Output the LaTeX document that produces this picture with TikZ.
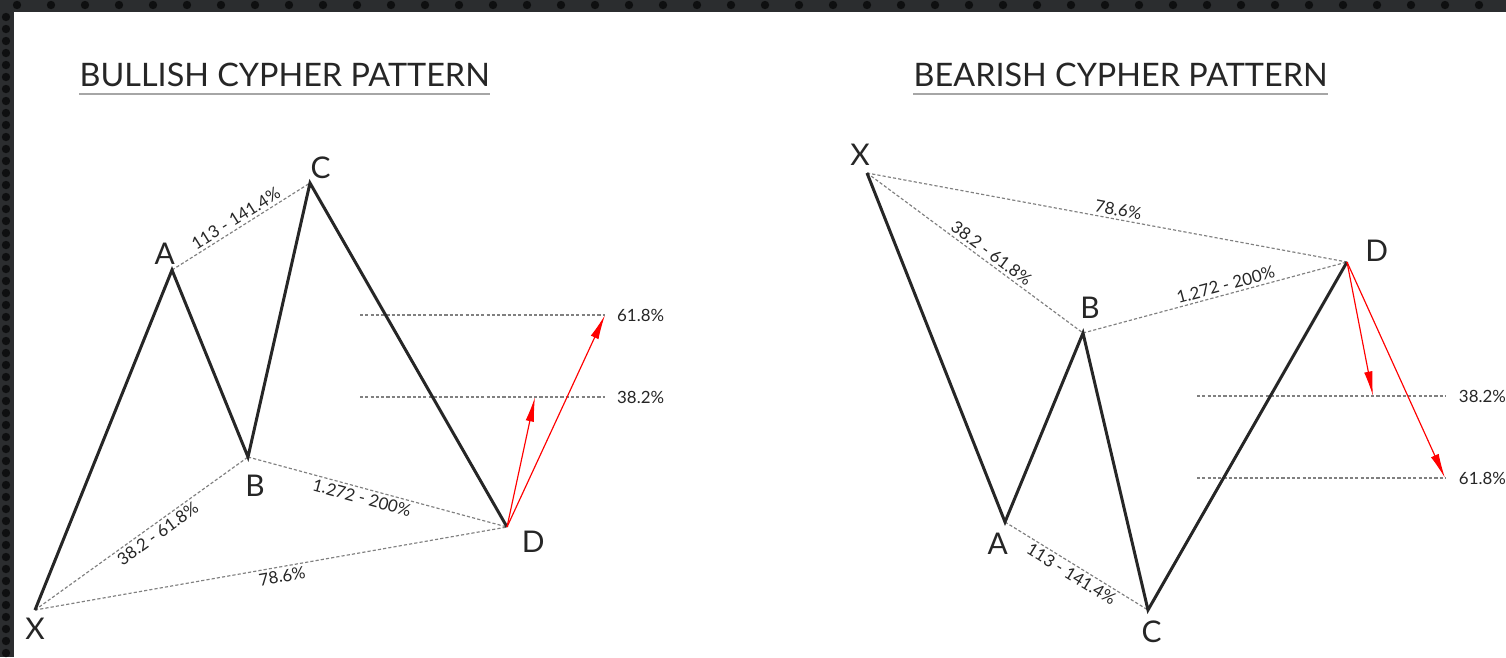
\documentclass[tikz,border=0pt]{standalone}
\usepackage{fontspec}
\setmainfont{Lato}
\usetikzlibrary{arrows.meta,positioning}

\definecolor{frame}{HTML}{2B2D2F}
\definecolor{hole}{HTML}{0E0F10}

\tikzset{
  leg/.style={line width=0.85pt, black!85, line join=miter},
  fib/.style={black!50, line width=0.33pt, dash pattern=on 0.9pt off 0.6pt},
  ratio/.style={font=\fontsize{4.8}{5.5}\selectfont, text=black!85, inner sep=0.8pt},
  pt/.style={font=\fontsize{8.5}{10}\selectfont, text=black!85, inner sep=0pt},
  title/.style={font=\fontsize{9.2}{11}\selectfont, text=black!85, inner sep=0pt},
  target/.style={red, line width=0.33pt, -{Latex[length=7pt,width=2.4pt]}},
}

\begin{document}
\begin{tikzpicture}[x=0.01cm, y=-0.01cm]
    \useasboundingbox (0,0) rectangle (1506,657);
    % frame and panel
    \fill[frame] (0,0) rectangle (1506,657);
    \foreach \i in {0,...,44} \fill[hole] (17+34*\i,5) circle (4.2);
    \foreach \j in {1,...,54} \fill[hole] (6,5+12*\j) circle (4.2);
    \fill[white] (14,12) rectangle (1506,657);

    % ---- bullish ----
    \node[title, anchor=base west] (bulltitle) at (79,86) {BULLISH CYPHER PATTERN};
    \draw[black!35, line width=0.7pt] ([yshift=-2.2pt]bulltitle.base west) -- ([yshift=-2.2pt]bulltitle.base east);

    \coordinate (bX) at (35,610);
    \coordinate (bA) at (172,270);
    \coordinate (bB) at (248,457);
    \coordinate (bC) at (310,183);
    \coordinate (bD) at (507,527);
    \coordinate (bL1) at (360,315);
    \coordinate (bL1e) at (605,315);
    \coordinate (bL2) at (360,397);
    \coordinate (bL2e) at (605,397);
    \coordinate (bT2) at (535,397);

    \draw[fib] (bA) -- node[ratio, sloped, above, pos=0.5] {113 - 141.4\%} (bC);
    \draw[fib] (bX) -- node[ratio, sloped, below, pos=0.55] {38.2 - 61.8\%} (bB);
    \draw[fib] (bB) -- node[ratio, sloped, below, pos=0.45] {1.272 - 200\%} (bD);
    \draw[fib] (bX) -- node[ratio, sloped, below, pos=0.52] {78.6\%} (bD);
    \draw[fib] (bL1) -- (bL1e) node[ratio, right=2.5pt] {61.8\%};
    \draw[fib] (bL2) -- (bL2e) node[ratio, right=2.5pt] {38.2\%};

    \draw[leg] (bX) -- (bA) -- (bB) -- (bC) -- (bD);
    \draw[target] (bD) -- (bT2);
    \draw[target] (bD) -- (bL1e);

    \node[pt, below left=2pt and -3pt of bX] {X};
    \node[pt, above left=1.5pt and -1pt of bA] {A};
    \node[pt, below=5pt of bB, xshift=2pt] {B};
    \node[pt, above right=1pt and 0pt of bC] {C};
    \node[pt, below right=1pt and 4pt of bD] {D};

    % ---- bearish ----
    \node[title, anchor=base west] (beartitle) at (913,86) {BEARISH CYPHER PATTERN};
    \draw[black!35, line width=0.7pt] ([yshift=-2.2pt]beartitle.base west) -- ([yshift=-2.2pt]beartitle.base east);

    \coordinate (sX) at (867,173);
    \coordinate (sA) at (1005,522);
    \coordinate (sB) at (1083,333);
    \coordinate (sC) at (1148,610);
    \coordinate (sD) at (1347,262);
    \coordinate (sL1) at (1197,396);
    \coordinate (sL1e) at (1445,396);
    \coordinate (sT1) at (1373,396);
    \coordinate (sL2) at (1197,478);
    \coordinate (sL2e) at (1445,478);

    \draw[fib] (sX) -- node[ratio, sloped, above, pos=0.52] {78.6\%} (sD);
    \draw[fib] (sX) -- node[ratio, sloped, above, pos=0.55] {38.2 - 61.8\%} (sB);
    \draw[fib] (sB) -- node[ratio, sloped, above, pos=0.55] {1.272 - 200\%} (sD);
    \draw[fib] (sA) -- node[ratio, sloped, below, pos=0.5] {113 - 141.4\%} (sC);
    \draw[fib] (sL1) -- (sL1e) node[ratio, right=3pt] {38.2\%};
    \draw[fib] (sL2) -- (sL2e) node[ratio, right=3pt] {61.8\%};

    \draw[leg] (sX) -- (sA) -- (sB) -- (sC) -- (sD);
    \draw[target] (sD) -- (sT1);
    \draw[target] (sD) -- (sL2e);

    \node[pt, above=2pt of sX, xshift=-2pt] {X};
    \node[pt, below left=3pt and -1pt of sA] {A};
    \node[pt, above=4pt of sB, xshift=2pt] {B};
    \node[pt, below right=3pt and -2pt of sC] {C};
    \node[pt, above right=0pt and 5pt of sD] {D};
\end{tikzpicture}
\end{document}
